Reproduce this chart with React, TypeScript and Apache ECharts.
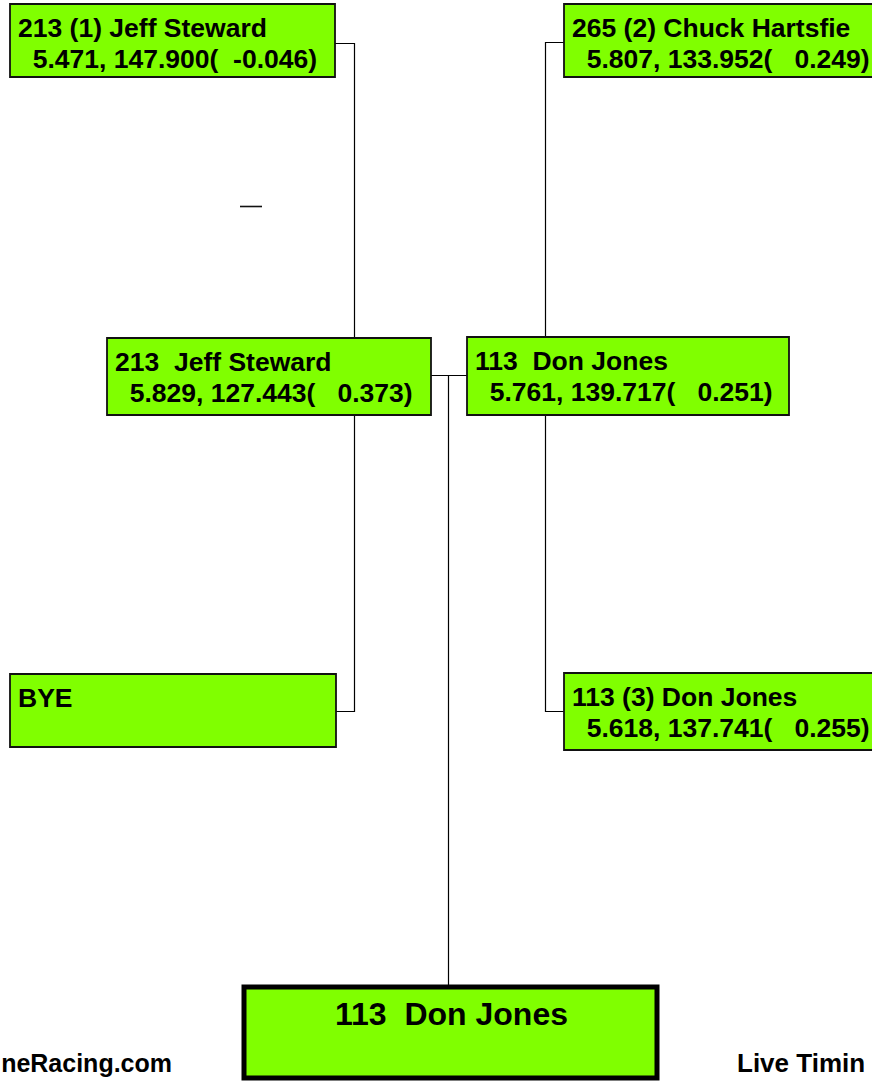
import React, { useEffect, useRef } from "react";
import * as echarts from "echarts";

// ---- Data ----
const round1Numbers = ["213", "", "265", "113"];
const round1Seeds = ["(1)", "", "(2)", "(3)"];
const round1Names = ["Jeff Steward", "BYE", "Chuck Hartsfie", "Don Jones"];
const round1ET = ["5.471", "", "5.807", "5.618"];
const round1Speed = ["147.900", "", "133.952", "137.741"];
const round1Reaction = ["-0.046", "", "0.249", "0.255"];

const round2Numbers = ["213", "113"];
const round2Names = ["Jeff Steward", "Don Jones"];
const round2ET = ["5.829", "5.761"];
const round2Speed = ["127.443", "139.717"];
const round2Reaction = ["0.373", "0.251"];

const winnerNumber = "113";
const winnerName = "Don Jones";

const footerLeft = "neRacing.com";
const footerRight = "Live Timin";

// ---- Layout (positions / sizes) ----
const R1_BOXES = [
  { x: 10, y: 4, w: 325, h: 73 },
  { x: 10, y: 674, w: 326, h: 73 },
  { x: 564, y: 4, w: 330, h: 73 },
  { x: 564, y: 673, w: 330, h: 77 },
];
const R2_BOXES = [
  { x: 107, y: 338, w: 324, h: 77 },
  { x: 467, y: 337, w: 322, h: 78 },
];
const FINAL_BOX = { x: 244, y: 987, w: 413, h: 91 };

const CONNECTORS = [
  [[335, 43.5], [354.5, 43.5], [354.5, 338]],
  [[354.5, 415], [354.5, 711.5], [336, 711.5]],
  [[564, 42.5], [545.5, 42.5], [545.5, 337]],
  [[545.5, 415], [545.5, 711.5], [564, 711.5]],
  [[431, 375.5], [467, 375.5]],
  [[448.5, 375.5], [448.5, 986]],
];

const FONT = "'Liberation Sans', Arial, Helvetica, sans-serif";
const GREEN = "#80FF00";
const BOX_FONT = 26.5;

function statLine(et: string, speed: string, rt: string) {
  if (!et) return "";
  return `  ${et}, ${speed}(${rt.padStart(8, " ")})`;
}

function textEl(x: number, y: number, text: string, size: number, align: string) {
  return {
    type: "text",
    x,
    y,
    style: {
      text,
      fontFamily: FONT,
      fontWeight: "bold",
      fontSize: size,
      fill: "#000",
      align,
      verticalAlign: "middle",
      textAlign: align,
      textVerticalAlign: "middle",
    },
  };
}

function boxElements(
  b: { x: number; y: number; w: number; h: number },
  line1: string,
  line2: string
) {
  const els: any[] = [
    {
      type: "rect",
      shape: { x: b.x, y: b.y, width: b.w, height: b.h },
      style: { fill: GREEN, stroke: "#111", lineWidth: 1.8 },
    },
    textEl(b.x + 8, b.y + 24, line1, BOX_FONT, "left"),
  ];
  if (line2) els.push(textEl(b.x + 8, b.y + 55, line2, BOX_FONT, "left"));
  return els;
}

export default function App() {
  const ref = useRef<HTMLDivElement>(null);

  useEffect(() => {
    if (!ref.current) return;
    document.body.style.overflow = "hidden";
    const chart = echarts.init(ref.current, undefined, { renderer: "svg" });

    const elements: any[] = [];

    CONNECTORS.forEach((pts) => {
      elements.push({
        type: "polyline",
        shape: { points: pts },
        style: { stroke: "#000", lineWidth: 1.2, fill: null },
      });
    });

    // stray dash
    elements.push({
      type: "line",
      shape: { x1: 240, y1: 206.5, x2: 262, y2: 206.5 },
      style: { stroke: "#111", lineWidth: 1.6 },
    });

    round1Names.forEach((name, i) => {
      const line1 = round1Numbers[i]
        ? `${round1Numbers[i]} ${round1Seeds[i]} ${name}`
        : name;
      const line2 = statLine(round1ET[i], round1Speed[i], round1Reaction[i]);
      elements.push(...boxElements(R1_BOXES[i], line1, line2));
    });

    round2Names.forEach((name, i) => {
      const line1 = `${round2Numbers[i]}  ${name}`;
      const line2 = statLine(round2ET[i], round2Speed[i], round2Reaction[i]);
      elements.push(...boxElements(R2_BOXES[i], line1, line2));
    });

    // final winner box
    elements.push({
      type: "rect",
      shape: { x: FINAL_BOX.x, y: FINAL_BOX.y, width: FINAL_BOX.w, height: FINAL_BOX.h },
      style: { fill: GREEN, stroke: "#000", lineWidth: 5 },
    });
    elements.push(
      textEl(FINAL_BOX.x + FINAL_BOX.w / 2 + 1, 1014, `${winnerNumber}  ${winnerName}`, 32, "center")
    );

    // footer
    elements.push(textEl(172, 1063, footerLeft, 25, "right"));
    elements.push(textEl(737, 1063, footerRight, 26, "left"));

    chart.setOption({
      animation: false,
      backgroundColor: "#ffffff",
      graphic: { elements },
    });

    return () => {
      chart.dispose();
    };
  }, []);

  return (
    <div
      ref={ref}
      style={{ position: "absolute", left: 0, top: 0, width: 872, height: 1081 }}
    />
  );
}
